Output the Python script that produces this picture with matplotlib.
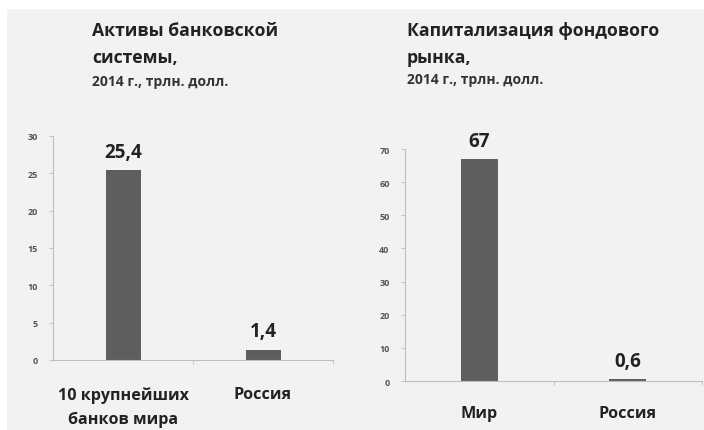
import matplotlib
matplotlib.use("Agg")
import matplotlib.pyplot as plt
from matplotlib.patches import Rectangle

plt.rcParams['font.family'] = ['Open Sans', 'DejaVu Sans']

# Активы банковской системы
bank_labels = ['10 крупнейших\nбанков мира', 'Россия']
bank_values = [25.4, 1.4]
bank_ticks = [0, 5, 10, 15, 20, 25, 30]

# Капитализация фондового рынка
market_labels = ['Мир', 'Россия']
market_values = [67, 0.6]
market_ticks = [0, 10, 20, 30, 40, 50, 60, 70]

W, H = 704, 431
BG = '#f2f2f2'
BAR = '#5e5e5e'
AXIS = '#bdbdbd'


def px(x0, y0, x1, y1):
  # pixel box (from top-left) -> figure fraction rect
  return [x0 / W, 1 - y1 / H, (x1 - x0) / W, (y1 - y0) / H]


def draw_panel(ax, labels, values, ticks, fmt, label_pad):
  x = list(range(len(values)))
  bars = ax.bar(x, values, width=0.25, color=BAR)
  ax.set_facecolor('none')
  ax.set_xlim(-0.5, len(values) - 0.5)
  ax.set_ylim(0, ticks[-1])
  ax.set_yticks(ticks)
  ax.set_yticklabels([str(t) for t in ticks], fontsize=6.5, color='#555555',
                     fontweight='bold')
  for side in ('top', 'right'):
    ax.spines[side].set_visible(False)
  for side in ('left', 'bottom'):
    ax.spines[side].set_color(AXIS)
    ax.spines[side].set_linewidth(0.8)
  ax.tick_params(axis='y', length=3, width=0.6, color=AXIS, pad=8)
  # category boundaries as x ticks
  ax.set_xticks([i + 0.5 for i in x])
  ax.set_xticklabels([])
  ax.tick_params(axis='x', length=3, width=0.6, color=AXIS)
  for i, lab in enumerate(labels):
    ax.annotate(lab, (i, 0), xytext=(0, -label_pad), textcoords='offset points',
                ha='center', va='top', fontsize=11.6, fontweight='bold',
                linespacing=1.65, color='#222222', annotation_clip=False)
  for b, v in zip(bars, values):
    ax.annotate(fmt(v), (b.get_x() + b.get_width() / 2, v),
                xytext=(0, 13), textcoords='offset points',
                ha='center', va='center', fontsize=13.5, fontweight='bold',
                color='#222222')


fig = plt.figure(figsize=(W / 100, H / 100), dpi=100, facecolor='white')
fig.patches.append(Rectangle((7 / W, 0), 1, 1 - 10 / H, transform=fig.transFigure,
                             facecolor=BG, edgecolor='none', zorder=-10))

comma = lambda v: f'{v:g}'.replace('.', ',')

ax1 = fig.add_axes(px(53, 137, 333, 361))
draw_panel(ax1, bank_labels, bank_values, bank_ticks, comma, 19)

ax2 = fig.add_axes(px(405, 150, 702, 382))
draw_panel(ax2, market_labels, market_values, market_ticks, comma, 17)

title_kw = dict(fontsize=12.7, fontweight='bold', color='#222222', va='center')
sub_kw = dict(fontsize=10, fontweight='bold', color='#333333', va='center')

fig.text(92 / W, 1 - 31 / H, 'Активы банковской', **title_kw)
fig.text(92 / W, 1 - 58 / H, 'системы,', **title_kw)
fig.text(92 / W, 1 - 82 / H, '2014 г., трлн. долл.', **sub_kw)

fig.text(407 / W, 1 - 31 / H, 'Капитализация фондового', **title_kw)
fig.text(407 / W, 1 - 58 / H, 'рынка,', **title_kw)
fig.text(407 / W, 1 - 80 / H, '2014 г., трлн. долл.', **sub_kw)

fig.savefig('out.png', dpi=100, facecolor=fig.get_facecolor())
